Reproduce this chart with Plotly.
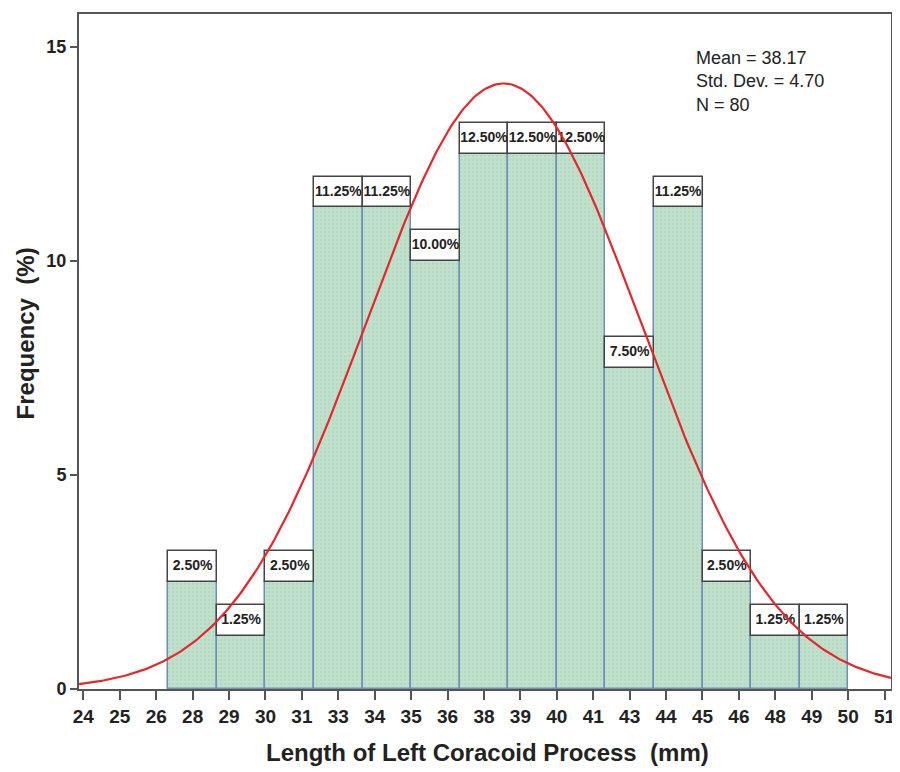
import numpy as np
import plotly.graph_objects as go

# ---- data ----
BIN_START = 26.6667
BIN_WIDTH = 5.0 / 3.0
PERCENTS = [2.50, 1.25, 2.50, 11.25, 11.25, 10.00, 12.50, 12.50, 12.50, 7.50, 11.25, 2.50, 1.25, 1.25]
LABELS = ["2.50%", "1.25%", "2.50%", "11.25%", "11.25%", "10.00%", "12.50%", "12.50%",
          "12.50%", "7.50%", "11.25%", "2.50%", "1.25%", "1.25%"]
MEAN = 38.17
SD = 4.70
N = 80
TICK_START = 23.75
TICK_STEP = 1.25
TICK_LABELS = ["24", "25", "26", "28", "29", "30", "31", "33", "34", "35", "36", "38",
               "39", "40", "41", "43", "44", "45", "46", "48", "49", "50", "51"]
Y_TICKS = [0, 5, 10, 15]

X_RANGE = [23.60, 51.47]
Y_RANGE = [0, 15.77]
BOX_H = 0.72  # label box height in y units

FONT = "Liberation Sans Narrow, Arial Narrow, Liberation Sans, Arial, sans-serif"
FONT_W = "Liberation Sans, Arial, sans-serif"

PLOT_H = 675  # px
centers = [BIN_START + BIN_WIDTH * (i + 0.5) for i in range(len(PERCENTS))]
tickvals = [TICK_START + TICK_STEP * i for i in range(len(TICK_LABELS))]

xc = np.linspace(X_RANGE[0], X_RANGE[1], 400)
yc = 100 * BIN_WIDTH * np.exp(-0.5 * ((xc - MEAN) / SD) ** 2) / (SD * np.sqrt(2 * np.pi))

fig = go.Figure()
fig.add_trace(go.Bar(
    x=centers, y=PERCENTS, width=BIN_WIDTH,
    marker=dict(color="#bfe0cb", line=dict(color="#6f8fb8", width=1.5),
                pattern=dict(shape=".", fgcolor="#a9cfb8", size=4, solidity=0.25)),
    showlegend=False, hoverinfo="skip"))
fig.add_trace(go.Bar(
    x=centers, y=[BOX_H] * len(PERCENTS), base=PERCENTS, width=BIN_WIDTH,
    marker=dict(color="white", line=dict(color="#444444", width=1.5)),
    showlegend=False, hoverinfo="skip"))
fig.add_trace(go.Scatter(
    x=centers, y=[p + BOX_H / 2 for p in PERCENTS], mode="text", text=LABELS,
    textfont=dict(family=FONT, size=14, color="#222222", weight="bold"),
    showlegend=False, hoverinfo="skip"))
fig.add_trace(go.Scatter(
    x=xc, y=yc, mode="lines", line=dict(color="#e5262b", width=2.2),
    showlegend=False, hoverinfo="skip"))

fig.update_layout(
    width=888, height=764,
    margin=dict(l=71, r=5, t=6, b=83, autoexpand=False),
    plot_bgcolor="white", paper_bgcolor="white",
    barmode="overlay", bargap=0,
    xaxis=dict(range=X_RANGE, tickvals=tickvals, ticktext=TICK_LABELS,
               showgrid=False, zeroline=False, showline=True, mirror=True,
               linecolor="#555555", linewidth=2, ticks="outside", ticklen=9,
               tickwidth=2, tickcolor="#555555", ticklabeloverflow="allow",
               automargin=False,
               tickfont=dict(family=FONT, size=19, color="#222222", weight="bold")),
    yaxis=dict(range=Y_RANGE, tickvals=Y_TICKS,
               showgrid=False, zeroline=False, showline=True, mirror=True,
               linecolor="#555555", linewidth=2, ticks="outside", ticklen=7,
               tickwidth=2, tickcolor="#555555", automargin=False,
               tickfont=dict(family=FONT, size=18, color="#222222", weight="bold")),
    annotations=[
        dict(text="Length of Left Coracoid Process  (mm)", xref="paper", yref="paper",
             x=0.503, y=-63 / PLOT_H, xanchor="center", yanchor="middle", showarrow=False,
             font=dict(family=FONT_W, size=24, color="#222222", weight="bold")),
        dict(text="Frequency  (%)", xref="paper", yref="paper", textangle=-90,
             x=-0.066, y=(689 - 333) / PLOT_H, xanchor="center", yanchor="middle",
             showarrow=False,
             font=dict(family=FONT_W, size=24, color="#222222", weight="bold")),
        dict(text=f"Mean = {MEAN:.2f}<br>Std. Dev. = {SD:.2f}<br>N = {N}",
             xref="paper", yref="paper", x=0.757, y=(689 - 46) / PLOT_H,
             xanchor="left", yanchor="top", align="left", showarrow=False,
             font=dict(family=FONT, size=18, color="#222222")),
    ],
)

fig.write_html("out.html")
